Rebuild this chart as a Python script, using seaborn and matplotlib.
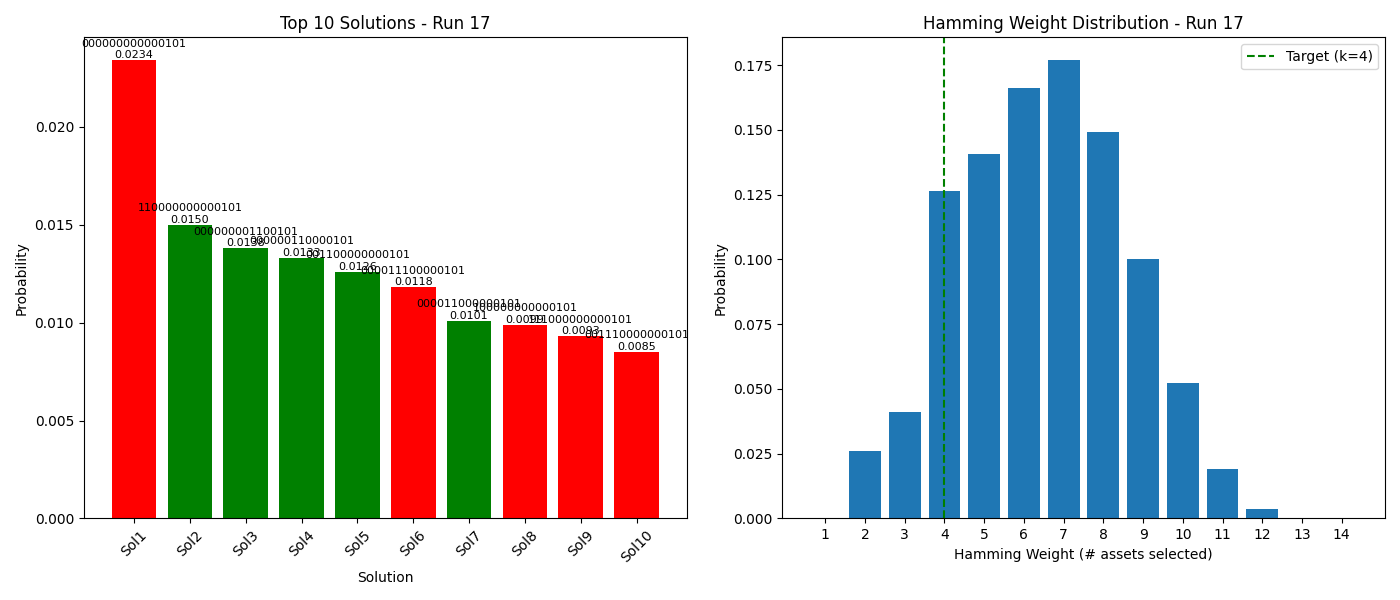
import matplotlib
matplotlib.use("Agg")
import matplotlib.pyplot as plt
import seaborn as sns
import pandas as pd

plt.rcParams['font.family'] = ['DejaVu Sans']

solutions = [f"Sol{i}" for i in range(1, 11)]
bitstrings = ["000000000000101", "110000000000101", "000000001100101", "000000110000101",
              "001100000000101", "000011100000101", "000011000000101", "100000000000101",
              "111000000000101", "001110000000101"]
probs = [0.0234, 0.0150, 0.0138, 0.0133, 0.0126, 0.0118, 0.0101, 0.0099, 0.0093, 0.0085]
weights = list(range(1, 15))
wprobs = [0.0, 0.0259, 0.0410, 0.1263, 0.1406, 0.1661, 0.1769, 0.1491, 0.1000, 0.0522, 0.0189, 0.0035, 0.0, 0.0]
k = 4

colors = ["green" if b.count("1") == k else "red" for b in bitstrings]

fig, (ax1, ax2) = plt.subplots(1, 2, figsize=(14, 6), dpi=100)

df1 = pd.DataFrame({"Solution": solutions, "Probability": probs})
sns.barplot(data=df1, x="Solution", y="Probability", hue="Solution", palette=colors,
            legend=False, ax=ax1, width=0.8, saturation=1, linewidth=0, edgecolor="none")
for i, (b, p) in enumerate(zip(bitstrings, probs)):
    ax1.text(i, p, f"{b}\n{p:.4f}", ha="center", va="bottom", fontsize=8)
ax1.set_title("Top 10 Solutions - Run 17")
ax1.set_xlabel("Solution")
ax1.set_ylabel("Probability")
ax1.tick_params(axis="x", rotation=45)
ax1.set_xlim(-0.9, 9.9)

ax2.bar(weights, wprobs, color="#1f77b4", width=0.8, linewidth=0)
ax2.axvline(k, color="green", linestyle="--", label=f"Target (k={k})")
ax2.set_xticks(weights)
ax2.set_title("Hamming Weight Distribution - Run 17")
ax2.set_xlabel("Hamming Weight (# assets selected)")
ax2.set_ylabel("Probability")
ax2.legend(loc="upper right")

plt.tight_layout()
plt.savefig("out.png")
